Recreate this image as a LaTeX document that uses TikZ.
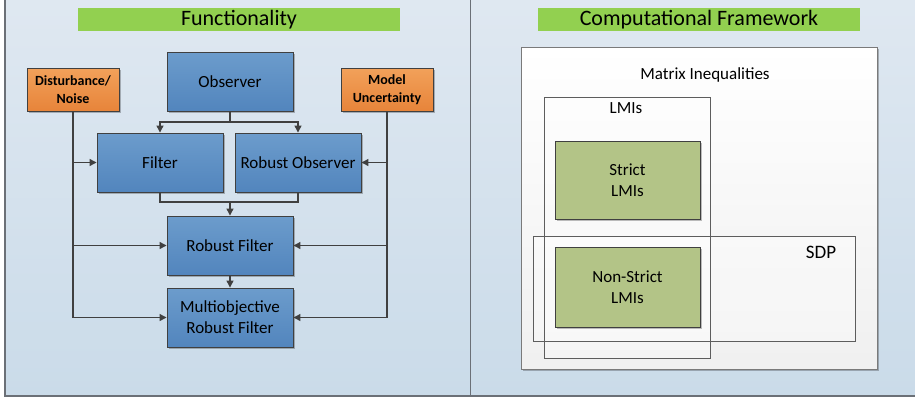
\documentclass[tikz,border=0pt]{standalone}
\usepackage{fontspec}
\setmainfont{Carlito}
\usetikzlibrary{arrows.meta,shadows}

\definecolor{panelTop}{HTML}{DFE8F1}
\definecolor{panelBot}{HTML}{CADBE9}
\definecolor{panelLine}{HTML}{6B7077}
\definecolor{titleGreen}{HTML}{92D050}
\definecolor{blueTop}{HTML}{6C9CCC}
\definecolor{blueBot}{HTML}{5285BD}
\definecolor{orangeTop}{HTML}{F2A15A}
\definecolor{orangeBot}{HTML}{E7843A}
\definecolor{olive}{HTML}{B3C487}
\definecolor{edgeDark}{HTML}{404040}
\definecolor{frameGray}{HTML}{7A7A7A}

\tikzset{
  x=1pt, y=-1pt,
  softshadow/.style={drop shadow={shadow xshift=1.5pt, shadow yshift=-1.5pt, opacity=0.25, fill=black}},
  titlebar/.style={fill=titleGreen, minimum width=322, minimum height=23, inner sep=0,
    font=\fontsize{22}{24}\selectfont},
  bluebox/.style={draw=edgeDark, line width=0.9pt, top color=blueTop, bottom color=blueBot,
    minimum width=126, minimum height=59, inner sep=0, align=center,
    font=\fontsize{17}{21}\selectfont, softshadow},
  orangebox/.style={draw=edgeDark, line width=0.9pt, top color=orangeTop, bottom color=orangeBot,
    minimum width=92, minimum height=43, inner sep=0, align=center,
    font=\bfseries\fontsize{14}{18}\selectfont, softshadow},
  olivebox/.style={draw=edgeDark, line width=0.9pt, fill=olive, inner sep=0, align=center,
    font=\fontsize{17}{21}\selectfont, softshadow},
  arr/.style={draw=edgeDark, line width=1.2pt, -{Triangle[length=7pt,width=7pt]}},
  link/.style={draw=edgeDark, line width=1.2pt},
  label/.style={inner sep=0, font=\fontsize{17}{20}\selectfont},
}

\begin{document}
\begin{tikzpicture}
\useasboundingbox (0,0) rectangle (915,400);
\fill[white] (0,0) rectangle (915,400);

% two panels
\shade[top color=panelTop, bottom color=panelBot] (5,0) rectangle (470,396);
\shade[top color=panelTop, bottom color=panelBot] (471,0) rectangle (915,396);
\draw[panelLine, line width=1.6pt] (5,0) -- (5,396) -- (915,396);
\draw[panelLine, line width=1.8pt] (470.5,0) -- (470.5,396);

% ---------- Functionality ----------
\node[titlebar] (tf) at (239,19.5) {Functionality};

\node[bluebox] (obs)  at (230,81.5)  {Observer};
\node[bluebox] (filt) at (160,162.5) {Filter};
\node[bluebox] (robs) at (298,162.5) {Robust Observer};
\node[bluebox] (rf)   at (230,245.5) {Robust Filter};
\node[bluebox] (mrf)  at (230,317.5) {Multiobjective\\Robust Filter};

\node[orangebox] (dist) at (73,89.5)  {Disturbance/\\Noise};
\node[orangebox] (mu)   at (387,89.5) {Model\\Uncertainty};

\coordinate (j1) at (230,122);
\coordinate (j2) at (230,202);

\draw[link] (obs.south) -- (j1);
\draw[arr] (j1) -| (filt.north);
\draw[arr] (j1) -| (robs.north);
\draw[link] (filt.south) |- (j2) -| (robs.south);
\draw[arr] (j2) -- (rf.north);
\draw[arr] (rf.south) -- (mrf.north);

\draw[arr] (dist.south) |- (mrf.west);
\draw[arr] (dist.south |- filt.west) -- (filt.west);
\draw[arr] (dist.south |- rf.west) -- (rf.west);

\draw[arr] (mu.south) |- (mrf.east);
\draw[arr] (mu.south |- robs.east) -- (robs.east);
\draw[arr] (mu.south |- rf.east) -- (rf.east);

% ---------- Computational Framework ----------
\node[titlebar] (tc) at (699,19.5) {Computational Framework};

\path[softshadow, top color=white, bottom color=black!6, draw=frameGray, line width=1pt]
  (521,47) rectangle (877,369);
\node[label] (mi) at (705,75) {Matrix Inequalities};

\fill[white, opacity=0.35] (544,97) rectangle (710,358);
\fill[white, opacity=0.35] (533,236) rectangle (855,341);
\draw[edgeDark!85, line width=0.9pt] (544,97) rectangle (710,358);
\draw[edgeDark!85, line width=0.9pt] (533,236) rectangle (855,341);
\node[label] (lmi) at (626,108) {LMIs};
\node[label, font=\fontsize{19}{22}\selectfont] (sdp) at (821,252) {SDP};

\node[olivebox, minimum width=145, minimum height=78] (strict) at (627.5,180) {Strict\\LMIs};
\node[olivebox, minimum width=145, minimum height=80] (nonstrict) at (627.5,287) {Non-Strict\\LMIs};
\end{tikzpicture}
\end{document}
